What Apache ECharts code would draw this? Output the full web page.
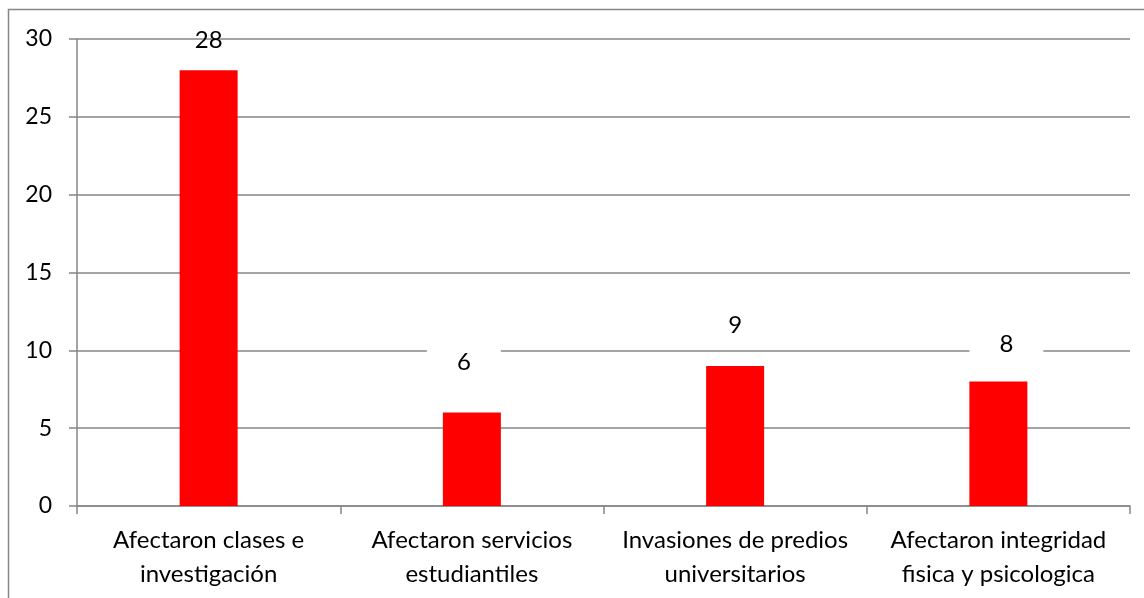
<!DOCTYPE html>
<html>
<head>
<meta charset="utf-8">
<script src="https://cdn.jsdelivr.net/npm/echarts@6/dist/echarts.min.js"></script>
<style>
  html, body { margin: 0; padding: 0; background: #fff; }
  #chart { width: 1144px; height: 598px; }
</style>
</head>
<body>
<div id="chart"></div>
<script>
// categorias y valores
var categorias = [
    'Afectaron clases e\ninvestigación',
    'Afectaron servicios\nestudiantiles',
    'Invasiones de predios\nuniversitarios',
    'Afectaron integridad\nfisica y psicologica'
];
var valores = [28, 6, 9, 8];
var ejeY = { min: 0, max: 30, interval: 5 };

var gris = '#868686';
var fuente = 'Lato';

// ajustes de etiquetas (como en el original, colocadas a mano)
var ajustes = [
    { distance: 10, offset: [0, 0], fondo: 'transparent' },
    { distance: 30, offset: [-8, 0], fondo: '#fff' },
    { distance: 21, offset: [0, 0], fondo: '#fff' },
    { distance: 17, offset: [8, 0], fondo: '#fff' }
];

var datos = valores.map(function (v, i) {
    var a = ajustes[i];
    return {
        value: v,
        label: { distance: a.distance, offset: a.offset, backgroundColor: a.fondo }
    };
});

var myChart = echarts.init(document.getElementById('chart'));
var option = {
    backgroundColor: '#fff',
    animation: false,
    textStyle: { fontFamily: fuente },
    graphic: [{
        type: 'rect',
        shape: { x: 8.5, y: 9.5, width: 1300, height: 800 },
        style: { fill: 'none', stroke: gris, lineWidth: 1.5 },
        z: -1
    }],
    grid: { left: 77, right: 14, top: 39, bottom: 92, containLabel: false },
    xAxis: {
        type: 'category',
        data: categorias,
        axisLine: { lineStyle: { color: gris, width: 1.5 } },
        axisTick: { show: true, length: 8, lineStyle: { color: gris, width: 1.5 } },
        axisLabel: {
            color: '#000', fontSize: 24, lineHeight: 34, margin: 17,
            fontFamily: fuente, interval: 0
        }
    },
    yAxis: {
        type: 'value',
        min: ejeY.min, max: ejeY.max, interval: ejeY.interval,
        axisLine: { show: true, lineStyle: { color: gris, width: 1.5 } },
        axisTick: { show: true, length: 8, lineStyle: { color: gris, width: 1.5 } },
        axisLabel: { color: '#000', fontSize: 23, margin: 25, fontFamily: fuente },
        splitLine: { lineStyle: { color: gris, width: 1.5 } }
    },
    series: [{
        type: 'bar',
        data: datos,
        barWidth: 58,
        itemStyle: { color: '#ff0000' },
        label: {
            show: true,
            position: 'top',
            color: '#000',
            fontSize: 24,
            fontFamily: fuente,
            padding: [8, 30]
        }
    }]
};
myChart.setOption(option);
</script>
</body>
</html>
